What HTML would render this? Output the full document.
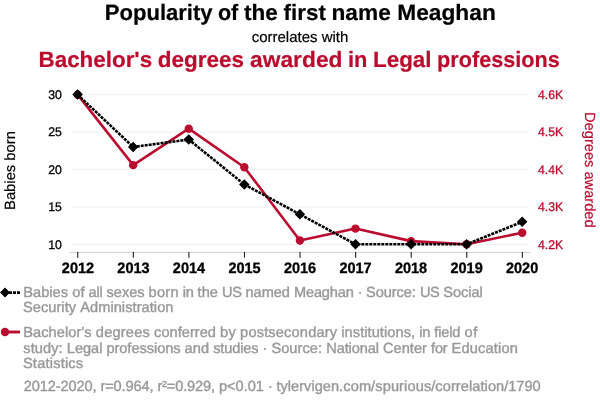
<!DOCTYPE html>
<html lang="en"><head><meta charset="utf-8"><title>Popularity of the first name Meaghan correlates with Bachelor's degrees awarded in Legal professions</title>
<style>
html,body{margin:0;padding:0;background:#fff;}
body{width:600px;height:408px;overflow:hidden;}
svg{display:block;font-family:"Liberation Sans",Arial,Helvetica,sans-serif;text-rendering:geometricPrecision;}
.t1{font-size:22.25px;font-weight:bold;fill:#000;stroke:#000;stroke-width:0.2px}
.t2{font-size:15px;fill:#000;stroke:#000;stroke-width:0.2px;text-anchor:middle}
.t3{font-size:22.2px;font-weight:bold;fill:#ba0c2f;stroke:#ba0c2f;stroke-width:0.2px}
.yl{font-size:12.3px;stroke:#000;stroke-width:0.3px;fill:#000;text-anchor:end}
.yr{font-size:12.3px;fill:#ba0c2f;stroke:#ba0c2f;stroke-width:0.3px;text-anchor:start}
.xl{font-size:14.5px;font-weight:bold;fill:#000;stroke:#000;stroke-width:0.3px;text-anchor:middle}
.at{font-size:15px;text-anchor:middle;stroke-width:0.2px}
.lg{font-size:14.6px;fill:#999;stroke:#999;stroke-width:0.4px}
</style></head><body>
<svg width="600" height="408" viewBox="0 0 600 408">
<rect width="600" height="408" fill="#fff"/>
<text class="t1" y="19.7"><tspan x="104.76" textLength="107.86" lengthAdjust="spacingAndGlyphs">Popularity</tspan> <tspan x="217.88" textLength="20.33" lengthAdjust="spacingAndGlyphs">of</tspan> <tspan x="243.98" textLength="33.78" lengthAdjust="spacingAndGlyphs">the</tspan> <tspan x="283.62" textLength="42.25" lengthAdjust="spacingAndGlyphs">first</tspan> <tspan x="331.53" textLength="59.23" lengthAdjust="spacingAndGlyphs">name</tspan> <tspan x="397.26" textLength="98.52" lengthAdjust="spacingAndGlyphs">Meaghan</tspan></text>
<text class="t2" x="300" y="41.5">correlates with</text>
<text class="t3" y="67.4"><tspan x="38.51" textLength="113.65" lengthAdjust="spacingAndGlyphs">Bachelor's</tspan> <tspan x="157.84" textLength="86.17" lengthAdjust="spacingAndGlyphs">degrees</tspan> <tspan x="250.10" textLength="92.36" lengthAdjust="spacingAndGlyphs">awarded</tspan> <tspan x="347.95" textLength="19.43" lengthAdjust="spacingAndGlyphs">in</tspan> <tspan x="373.01" textLength="58.56" lengthAdjust="spacingAndGlyphs">Legal</tspan> <tspan x="437.04" textLength="122.87" lengthAdjust="spacingAndGlyphs">professions</tspan></text>
<line x1="71" x2="528" y1="244.3" y2="244.3" stroke="#f2f2f2" stroke-width="1.2"/>
<text class="yl" transform="translate(61.9,248.65) scale(1,1.02)">10</text>
<line x1="71" x2="528" y1="206.875" y2="206.875" stroke="#f2f2f2" stroke-width="1.2"/>
<text class="yl" transform="translate(61.9,211.225) scale(1,1.02)">15</text>
<line x1="71" x2="528" y1="169.45" y2="169.45" stroke="#f2f2f2" stroke-width="1.2"/>
<text class="yl" transform="translate(61.9,173.79999999999998) scale(1,1.02)">20</text>
<line x1="71" x2="528" y1="132.025" y2="132.025" stroke="#f2f2f2" stroke-width="1.2"/>
<text class="yl" transform="translate(61.9,136.375) scale(1,1.02)">25</text>
<line x1="71" x2="528" y1="94.6" y2="94.6" stroke="#f2f2f2" stroke-width="1.2"/>
<text class="yl" transform="translate(61.9,98.94999999999999) scale(1,1.02)">30</text>
<text class="yr" transform="translate(537.9,248.65) scale(1,1.02)">4.2K</text>
<text class="yr" transform="translate(537.9,211.225) scale(1,1.02)">4.3K</text>
<text class="yr" transform="translate(537.9,173.79999999999998) scale(1,1.02)">4.4K</text>
<text class="yr" transform="translate(537.9,136.375) scale(1,1.02)">4.5K</text>
<text class="yr" transform="translate(537.9,98.94999999999999) scale(1,1.02)">4.6K</text>
<line x1="70" x2="530" y1="252.4" y2="252.4" stroke="#cdcdcd" stroke-width="1"/>
<line x1="77.75" x2="77.75" y1="251.9" y2="257.7" stroke="#1c1c1c" stroke-width="1.1"/>
<text class="xl" transform="translate(77.95,272.6) scale(1,1.04)">2012</text>
<line x1="133.33" x2="133.33" y1="251.9" y2="257.7" stroke="#1c1c1c" stroke-width="1.1"/>
<text class="xl" transform="translate(133.47,272.6) scale(1,1.04)">2013</text>
<line x1="188.9" x2="188.9" y1="251.9" y2="257.7" stroke="#1c1c1c" stroke-width="1.1"/>
<text class="xl" transform="translate(188.98,272.6) scale(1,1.04)">2014</text>
<line x1="244.48" x2="244.48" y1="251.9" y2="257.7" stroke="#1c1c1c" stroke-width="1.1"/>
<text class="xl" transform="translate(244.50,272.6) scale(1,1.04)">2015</text>
<line x1="300.05" x2="300.05" y1="251.9" y2="257.7" stroke="#1c1c1c" stroke-width="1.1"/>
<text class="xl" transform="translate(300.01,272.6) scale(1,1.04)">2016</text>
<line x1="355.62" x2="355.62" y1="251.9" y2="257.7" stroke="#1c1c1c" stroke-width="1.1"/>
<text class="xl" transform="translate(355.53,272.6) scale(1,1.04)">2017</text>
<line x1="411.2" x2="411.2" y1="251.9" y2="257.7" stroke="#1c1c1c" stroke-width="1.1"/>
<text class="xl" transform="translate(411.04,272.6) scale(1,1.04)">2018</text>
<line x1="466.77" x2="466.77" y1="251.9" y2="257.7" stroke="#1c1c1c" stroke-width="1.1"/>
<text class="xl" transform="translate(466.56,272.6) scale(1,1.04)">2019</text>
<line x1="522.35" x2="522.35" y1="251.9" y2="257.7" stroke="#1c1c1c" stroke-width="1.1"/>
<text class="xl" transform="translate(522.07,272.6) scale(1,1.04)">2020</text>
<text class="at" style="font-size:14.8px" transform="translate(14.7,170.5) rotate(-90)" fill="#000" stroke="#000">Babies born</text>
<text class="at" style="font-size:14.65px" transform="translate(584.7,169.8) rotate(90)" fill="#ba0c2f" stroke="#ba0c2f">Degrees awarded</text>
<polyline points="77.60,94.60 133.18,165.15 188.75,128.66 244.33,167.20 299.90,240.56 355.48,228.58 411.05,241.12 466.62,244.30 522.20,232.70" fill="none" stroke="#ba0c2f" stroke-width="2.6" stroke-linejoin="round"/>
<circle cx="77.60" cy="94.60" r="4.2" fill="#ba0c2f"/>
<circle cx="133.18" cy="165.15" r="4.2" fill="#ba0c2f"/>
<circle cx="188.75" cy="128.66" r="4.2" fill="#ba0c2f"/>
<circle cx="244.33" cy="167.20" r="4.2" fill="#ba0c2f"/>
<circle cx="299.90" cy="240.56" r="4.2" fill="#ba0c2f"/>
<circle cx="355.48" cy="228.58" r="4.2" fill="#ba0c2f"/>
<circle cx="411.05" cy="241.12" r="4.2" fill="#ba0c2f"/>
<circle cx="466.62" cy="244.30" r="4.2" fill="#ba0c2f"/>
<circle cx="522.20" cy="232.70" r="4.2" fill="#ba0c2f"/>
<polyline points="77.60,94.60 133.18,147.00 188.75,139.51 244.33,184.42 299.90,214.36 355.48,244.30 411.05,244.30 466.62,244.30 522.20,221.84" fill="none" stroke="#000" stroke-width="2.6" stroke-dasharray="3,1" stroke-linejoin="round"/>
<path d="M77.60,89.35L82.85,94.60L77.60,99.85L72.35,94.60Z" fill="#000"/>
<path d="M133.18,141.75L138.43,147.00L133.18,152.25L127.93,147.00Z" fill="#000"/>
<path d="M188.75,134.26L194.00,139.51L188.75,144.76L183.50,139.51Z" fill="#000"/>
<path d="M244.33,179.17L249.58,184.42L244.33,189.67L239.08,184.42Z" fill="#000"/>
<path d="M299.90,209.11L305.15,214.36L299.90,219.61L294.65,214.36Z" fill="#000"/>
<path d="M355.48,239.05L360.73,244.30L355.48,249.55L350.23,244.30Z" fill="#000"/>
<path d="M411.05,239.05L416.30,244.30L411.05,249.55L405.80,244.30Z" fill="#000"/>
<path d="M466.62,239.05L471.88,244.30L466.62,249.55L461.38,244.30Z" fill="#000"/>
<path d="M522.20,216.59L527.45,221.84L522.20,227.09L516.95,221.84Z" fill="#000"/>
<line x1="1" x2="20" y1="292.6" y2="292.6" stroke="#000" stroke-width="2.6" stroke-dasharray="3,1"/>
<path d="M5,287.6L10.0,292.6L5,297.6L0.0,292.6Z" fill="#000"/>
<line x1="1" x2="20" y1="332.0" y2="332.0" stroke="#ba0c2f" stroke-width="2.9"/>
<circle cx="5" cy="332.0" r="4.2" fill="#ba0c2f"/>
<g class="lg">
<text y="296.80" xml:space="preserve"><tspan x="23.20" textLength="49.00" lengthAdjust="spacing">Babies </tspan><tspan x="72.20" textLength="16.40" lengthAdjust="spacing">of </tspan><tspan x="88.60" textLength="17.90" lengthAdjust="spacing">all </tspan><tspan x="106.50" textLength="42.10" lengthAdjust="spacing">sexes </tspan><tspan x="148.60" textLength="34.20" lengthAdjust="spacing">born </tspan><tspan x="182.80" textLength="14.80" lengthAdjust="spacing">in </tspan><tspan x="197.60" textLength="24.50" lengthAdjust="spacing">the </tspan><tspan x="222.10" textLength="23.40" lengthAdjust="spacing">US </tspan><tspan x="245.50" textLength="48.50" lengthAdjust="spacing">named </tspan><tspan x="294.00" textLength="63.70" lengthAdjust="spacing">Meaghan </tspan><tspan x="357.70" textLength="8.30" lengthAdjust="spacing">· </tspan><tspan x="366.00" textLength="53.90" lengthAdjust="spacing">Source: </tspan><tspan x="419.90" textLength="23.30" lengthAdjust="spacing">US </tspan><tspan x="443.20" textLength="39.60" lengthAdjust="spacing">Social</tspan></text>
<text y="312.30" xml:space="preserve"><tspan x="22.94" textLength="57.26" lengthAdjust="spacing">Security </tspan><tspan x="80.20" textLength="93.25" lengthAdjust="spacing">Administration</tspan></text>
<text y="336.50" xml:space="preserve"><tspan x="23.20" textLength="72.60" lengthAdjust="spacing">Bachelor's </tspan><tspan x="95.80" textLength="58.30" lengthAdjust="spacing">degrees </tspan><tspan x="154.10" textLength="65.90" lengthAdjust="spacing">conferred </tspan><tspan x="220.00" textLength="20.10" lengthAdjust="spacing">by </tspan><tspan x="240.10" textLength="101.20" lengthAdjust="spacing">postsecondary </tspan><tspan x="341.30" textLength="77.90" lengthAdjust="spacing">institutions, </tspan><tspan x="419.20" textLength="15.10" lengthAdjust="spacing">in </tspan><tspan x="434.30" textLength="30.10" lengthAdjust="spacing">field </tspan><tspan x="464.40" textLength="13.00" lengthAdjust="spacing">of</tspan></text>
<text y="352.50" xml:space="preserve"><tspan x="23.29" textLength="43.51" lengthAdjust="spacing">study: </tspan><tspan x="66.80" textLength="39.60" lengthAdjust="spacing">Legal </tspan><tspan x="106.40" textLength="78.20" lengthAdjust="spacing">professions </tspan><tspan x="184.60" textLength="28.60" lengthAdjust="spacing">and </tspan><tspan x="213.20" textLength="49.30" lengthAdjust="spacing">studies </tspan><tspan x="262.50" textLength="8.90" lengthAdjust="spacing">· </tspan><tspan x="271.40" textLength="54.80" lengthAdjust="spacing">Source: </tspan><tspan x="326.20" textLength="56.70" lengthAdjust="spacing">National </tspan><tspan x="382.90" textLength="48.20" lengthAdjust="spacing">Center </tspan><tspan x="431.10" textLength="20.50" lengthAdjust="spacing">for </tspan><tspan x="451.60" textLength="66.30" lengthAdjust="spacing">Education</tspan></text>
<text y="368.40" xml:space="preserve"><tspan x="22.94" textLength="60.19" lengthAdjust="spacing">Statistics</tspan></text>
<text y="391.30" xml:space="preserve"><tspan x="23.87" textLength="76.63" lengthAdjust="spacing">2012-2020, </tspan><tspan x="100.50" textLength="56.90" lengthAdjust="spacing">r=0.964, </tspan><tspan x="157.40" textLength="61.60" lengthAdjust="spacing">r²=0.929, </tspan><tspan x="219.00" textLength="49.00" lengthAdjust="spacing">p&lt;0.01 </tspan><tspan x="268.00" textLength="8.40" lengthAdjust="spacing">· </tspan><tspan x="276.40" textLength="62.70" lengthAdjust="spacing">tylervigen</tspan><tspan x="339.10" textLength="32.00" lengthAdjust="spacing">.com</tspan><tspan x="371.10" textLength="60.10" lengthAdjust="spacing">/spurious</tspan><tspan x="431.20" textLength="73.00" lengthAdjust="spacing">/correlation</tspan><tspan x="504.20" textLength="36.40" lengthAdjust="spacing">/1790</tspan></text>
</g>
</svg></body></html>
